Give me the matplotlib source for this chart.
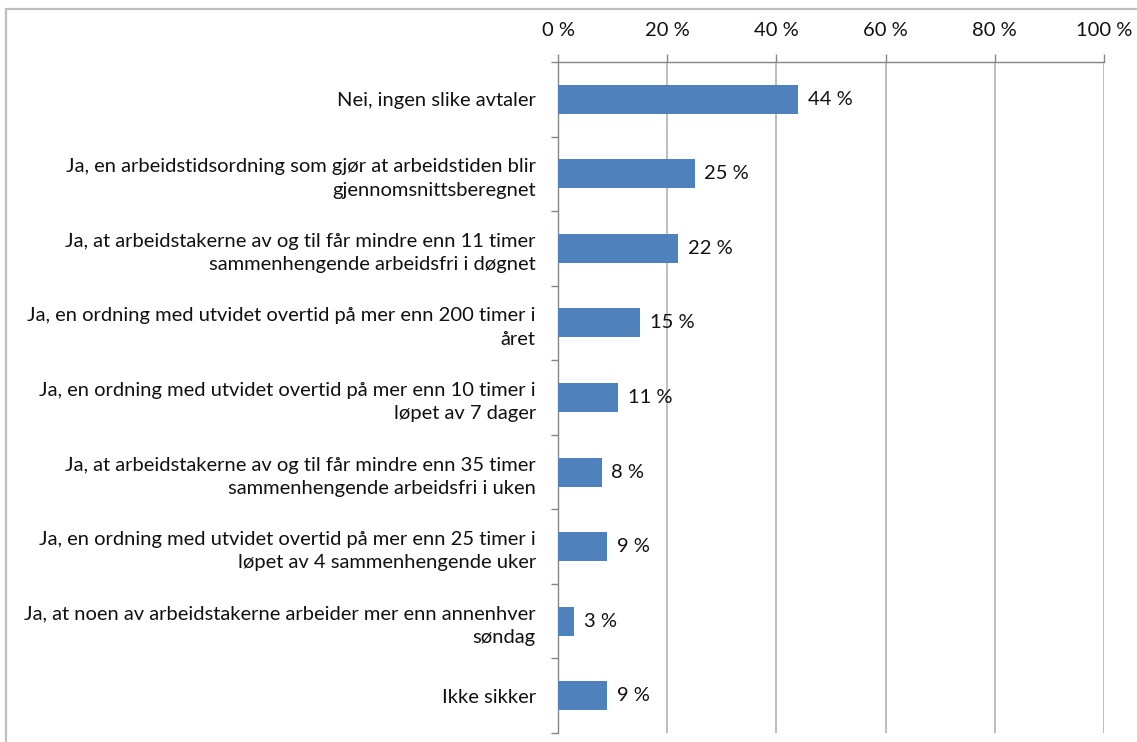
import matplotlib
matplotlib.use("Agg")
import matplotlib.pyplot as plt
from matplotlib.patches import Rectangle
from matplotlib.ticker import FixedLocator, NullFormatter

categories = [
    "Nei, ingen slike avtaler",
    "Ja, en arbeidstidsordning som gjør at arbeidstiden blir\ngjennomsnittsberegnet",
    "Ja, at arbeidstakerne av og til får mindre enn 11 timer\nsammenhengende arbeidsfri i døgnet",
    "Ja, en ordning med utvidet overtid på mer enn 200 timer i\nåret",
    "Ja, en ordning med utvidet overtid på mer enn 10 timer i\nløpet av 7 dager",
    "Ja, at arbeidstakerne av og til får mindre enn 35 timer\nsammenhengende arbeidsfri i uken",
    "Ja, en ordning med utvidet overtid på mer enn 25 timer i\nløpet av 4 sammenhengende uker",
    "Ja, at noen av arbeidstakerne arbeider mer enn annenhver\nsøndag",
    "Ikke sikker",
]
values = [44, 25, 22, 15, 11, 8, 9, 3, 9]
xticks = [0, 20, 40, 60, 80, 100]
xtick_labels = ["0 %", "20 %", "40 %", "60 %", "80 %", "100 %"]

plt.rcParams["font.family"] = ["Lato", "DejaVu Sans"]
FS = 14.5

W, H = 1137, 742
fig = plt.figure(figsize=(W / 100, H / 100), dpi=100)
fig.patch.set_facecolor("white")

# outer chart frame
fig.patches.append(Rectangle((6 / W, -0.05), 1.2, 1 - 9 / H + 0.05,
                             transform=fig.transFigure, fill=False,
                             edgecolor="#BEBEBE", linewidth=1.6))

ax = fig.add_axes([558 / W, 1 - 733 / H, (1104 - 558) / W, (733 - 62) / H])
n = len(categories)
ypos = list(range(n))
ax.barh(ypos, values, height=0.39, color="#4F81BD", zorder=3)
ax.set_ylim(n - 0.5, -0.5)
ax.set_xlim(0, 100)

for y, v in zip(ypos, values):
    ax.annotate(f"{v} %", (v, y), xytext=(7, 0), textcoords="offset points",
                va="center", ha="left", fontsize=FS, color="#111111")

ax.xaxis.tick_top()
ax.set_xticks(xticks)
ax.set_xticklabels(xtick_labels, fontsize=FS, color="#111111")
ax.tick_params(axis="x", direction="out", length=5.5, width=1, color="#868686", pad=11)
ax.grid(axis="x", color="#B3B3B3", linewidth=1.2, zorder=0)

ax.set_yticks(ypos)
ax.set_yticklabels(categories, fontsize=FS, color="#111111", ha="right",
                   linespacing=1.45)
ax.tick_params(axis="y", which="major", length=0, pad=16)
ax.yaxis.set_minor_locator(FixedLocator([i - 0.5 for i in range(n + 1)]))
ax.yaxis.set_minor_formatter(NullFormatter())
ax.tick_params(axis="y", which="minor", direction="out", length=5, width=1, color="#868686")

for s in ["right", "bottom"]:
    ax.spines[s].set_visible(False)
for s in ["left", "top"]:
    ax.spines[s].set_color("#868686")
    ax.spines[s].set_linewidth(1.0)

fig.savefig("out.png", dpi=100)
